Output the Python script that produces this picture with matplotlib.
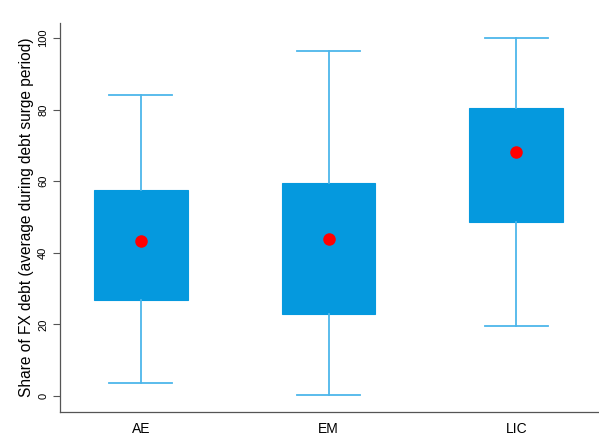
import numpy as np
import matplotlib.pyplot as plt

plt.rcParams['font.family'] = ['Liberation Sans', 'DejaVu Sans']

# values
groups = ['AE', 'EM', 'LIC']
whisker_low = [3.6, 0.3, 19.6]
q1 = [26.8, 22.9, 48.6]
q3 = [57.5, 59.6, 80.4]
whisker_high = [84.2, 96.5, 100.0]
means = [43.4, 43.9, 68.2]

stats = []
for i, g in enumerate(groups):
    stats.append(dict(label=g, whislo=whisker_low[i], q1=q1[i], med=(q1[i] + q3[i]) / 2,
                      q3=q3[i], whishi=whisker_high[i], mean=means[i]))

fig = plt.figure(figsize=(5.99, 4.45), dpi=100)
ax = fig.add_axes([60 / 599, 33 / 445, 538 / 599, 389 / 445])

box_col = '#0599DE'
line_col = '#4DB6EA'
ax.bxp(stats, positions=range(len(groups)), widths=0.5, capwidths=0.335,
       patch_artist=True, showmeans=True, showfliers=False,
       boxprops=dict(facecolor=box_col, edgecolor=box_col, linewidth=0.8),
       whiskerprops=dict(color=line_col, linewidth=1.3),
       capprops=dict(color=line_col, linewidth=1.3),
       medianprops=dict(visible=False),
       meanprops=dict(marker='o', markerfacecolor='#FF0000', markeredgecolor='#FF0000',
                      markersize=8))

ax.set_xlim(-0.43, 2.435)
ax.set_ylim(-4.47, 104.2)
ax.set_yticks([0, 20, 40, 60, 80, 100])
ax.tick_params(axis='y', labelsize=8, rotation=90, length=5, width=0.8, color='#555555')
for lab in ax.get_yticklabels():
    lab.set_va('center')
ax.tick_params(axis='x', length=0, labelsize=10, pad=7)
ax.set_xticklabels(groups)
ax.set_ylabel('Share of FX debt (average during debt surge period)', fontsize=11.2, labelpad=3)

for s in ['top', 'right']:
    ax.spines[s].set_visible(False)
for s in ['left', 'bottom']:
    ax.spines[s].set_color('#555555')
    ax.spines[s].set_linewidth(0.9)

fig.savefig('out.png', dpi=100)
